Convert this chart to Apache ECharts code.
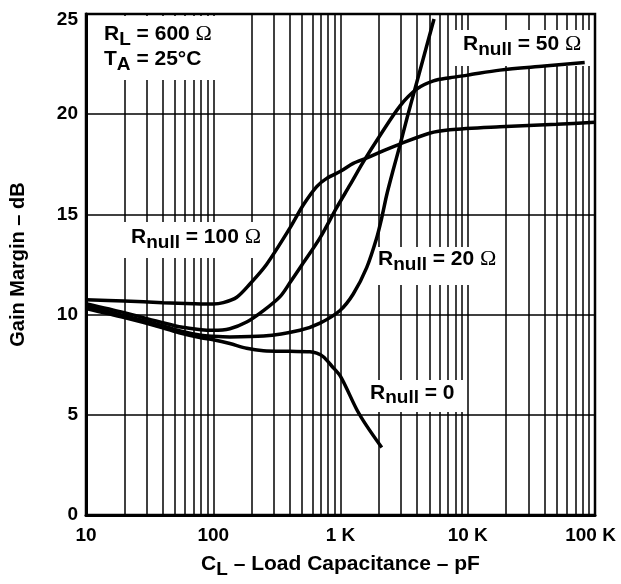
<!DOCTYPE html>
<html><head><meta charset="utf-8">
<script src="https://cdn.jsdelivr.net/npm/echarts@6/dist/echarts.min.js"></script>
<style>html,body{margin:0;padding:0;background:#fff}#c{width:621px;height:584px}</style>
</head><body><div id="c"></div>
<script>
// ---- data ----
const xTickValues = [10, 100, 1000, 10000, 100000];
const xTickLabels = ['10', '100', '1 K', '10 K', '100 K'];
const yTickValues = [0, 5, 10, 15, 20, 25];
const minorGridValues = [20, 30, 40, 50, 60, 70, 80, 90,
  200, 300, 400, 500, 600, 700, 800, 900,
  2000, 3000, 4000, 5000, 6000, 7000, 8000, 9000,
  20000, 30000, 40000, 50000, 60000, 70000, 80000, 90000];

const rnull0 = [[10,10.3],[20,9.85],[40,9.35],[54,9.1],[80,8.85],[100,8.75],[135,8.56],[183,8.32],[248,8.2],[400,8.17],[575,8.15],[650,8.08],[733,7.9],[850,7.45],[1000,6.92],[1341,5.27],[1606,4.45],[2109,3.37]];
const rnull20 = [[10,10.42],[20,9.95],[40,9.45],[54,9.2],[80,8.97],[100,8.92],[135,8.89],[248,8.93],[480,9.22],[690,9.58],[991,10.21],[1259,11.03],[1606,12.35],[1924,13.83],[2107,14.82],[2307,15.97],[2600,17.24],[2939,18.48],[3334,19.81],[3785,21.1],[4533,22.92],[5433,24.75]];
const rnull50 = [[10,10.55],[20,10.1],[40,9.6],[54,9.4],[80,9.25],[100,9.22],[135,9.3],[183,9.63],[248,10.2],[335,10.9],[401,11.6],[500,12.5],[690,13.83],[933,15.34],[1188,16.47],[1511,17.62],[2044,18.94],[2940,20.42],[3970,21.25],[5375,21.66],[7250,21.82],[10000,21.95],[17900,22.2],[40000,22.4],[83000,22.58]];
const rnull100 = [[10,10.74],[20,10.68],[40,10.6],[70,10.55],[100,10.53],[120,10.6],[153,10.87],[194,11.53],[263,12.52],[401,14.33],[511,15.48],[650,16.39],[779,16.8],[1000,17.15],[1259,17.55],[1580,17.8],[2307,18.25],[2897,18.5],[5000,19.05],[7250,19.22],[17900,19.37],[50000,19.5],[100000,19.6]];

// ---- chart ----
const FF = '"Liberation Sans", Arial, sans-serif';
const rich = {
  b: {fontFamily: FF, fontWeight: 'bold', fontSize: 21, color: '#000', lineHeight: 24},
  s: {fontFamily: FF, fontWeight: 'bold', fontSize: 19, color: '#000', lineHeight: 24, padding: [10, 0, 0, 0]},
  o: {fontFamily: '"Liberation Serif", serif', fontWeight: 'normal', fontSize: 22, color: '#000', lineHeight: 24}
};
const nameRich = {
  b: {fontFamily: FF, fontWeight: 'bold', fontSize: 21, color: '#000', lineHeight: 24},
  s: {fontFamily: FF, fontWeight: 'bold', fontSize: 19, color: '#000', lineHeight: 24, padding: [10, 0, 0, 0]}
};

function curve(data) {
  return {
    type: 'line', data: data, showSymbol: false, smooth: 0.3, z: 2,
    lineStyle: {color: '#000', width: 3.5}, silent: true
  };
}

function annot(x, y, text) {
  return {type: 'text', z: 3, x: x, y: y, silent: true,
    style: {text: text, rich: rich, align: 'left', verticalAlign: 'middle'}};
}
function box(x, y, w, h) {
  return {type: 'rect', z: 1, silent: true, shape: {x: x, y: y, width: w, height: h}, style: {fill: '#fff'}};
}

const chart = echarts.init(document.getElementById('c'), null, {renderer: 'canvas'});
const series = [curve(rnull0), curve(rnull20), curve(rnull50), curve(rnull100)];
series[0].markLine = {
  silent: true, z: 0, animation: false, symbol: ['none', 'none'],
  label: {show: false},
  lineStyle: {color: '#000', width: 1.5, type: 'solid'},
  emphasis: {disabled: true},
  data: minorGridValues.map(v => ({xAxis: v}))
};

chart.setOption({
  animation: false,
  backgroundColor: '#fff',
  grid: {left: 86, top: 14, width: 509, height: 506, show: true, borderColor: '#000', borderWidth: 2.5, backgroundColor: 'transparent'},
  xAxis: {
    type: 'log', logBase: 10, min: 10, max: 100000,
    axisLine: {show: true, lineStyle: {color: '#000', width: 3}},
    axisTick: {show: false},
    splitLine: {show: true, lineStyle: {color: '#000', width: 1.5}},
    axisLabel: {
      margin: 11, color: '#000', fontFamily: FF, fontWeight: 'bold', fontSize: 19,
      formatter: v => { const i = xTickValues.findIndex(t => Math.abs(t - v) / t < 1e-6); if (i < 0) return ''; return i === xTickLabels.length - 1 ? '{r|' + xTickLabels[i] + '}' : xTickLabels[i]; },
      rich: {r: {fontFamily: FF, fontWeight: 'bold', fontSize: 19, color: '#000', padding: [0, 9, 0, 0]}}
    },
    name: '{b|C}{s|L}{b| – Load Capacitance – pF}',
    nameLocation: 'middle', nameGap: 34,
    nameTextStyle: {rich: nameRich}
  },
  yAxis: {
    type: 'value', min: 0, max: 25, interval: 5,
    axisLine: {show: true, lineStyle: {color: '#000', width: 3}},
    axisTick: {show: false},
    splitLine: {show: true, lineStyle: {color: '#000', width: 1.5}},
    axisLabel: {
      margin: 8, color: '#000', fontFamily: FF, fontWeight: 'bold', fontSize: 19,
      formatter: v => { const i = yTickValues.indexOf(v); if (i < 0) return ''; return i === yTickValues.length - 1 ? '{t|' + v + '}' : String(v); },
      rich: {t: {fontFamily: FF, fontWeight: 'bold', fontSize: 19, color: '#000', padding: [12, 0, 0, 0]}}
    },
    name: 'Gain Margin – dB', nameLocation: 'middle', nameGap: 58, nameRotate: 90,
    nameTextStyle: {fontFamily: FF, fontWeight: 'bold', fontSize: 20, color: '#000'}
  },
  series: series,
  graphic: [
    box(88, 16, 134, 64),
    box(120, 222, 150, 36),
    box(452, 30, 141, 36),
    box(372, 247, 133, 38),
    box(365, 380, 100, 32),
    annot(104, 34.5, '{b|R}{s|L}{b| = 600 }{o|Ω}'),
    annot(104, 59.5, '{b|T}{s|A}{b| = 25°C}'),
    annot(131, 237.5, '{b|R}{s|null}{b| = 100 }{o|Ω}'),
    annot(463, 44.5, '{b|R}{s|null}{b| = 50 }{o|Ω}'),
    annot(378, 259.5, '{b|R}{s|null}{b| = 20 }{o|Ω}'),
    annot(370, 393, '{b|R}{s|null}{b| = 0}')
  ]
});
</script>
</body></html>
